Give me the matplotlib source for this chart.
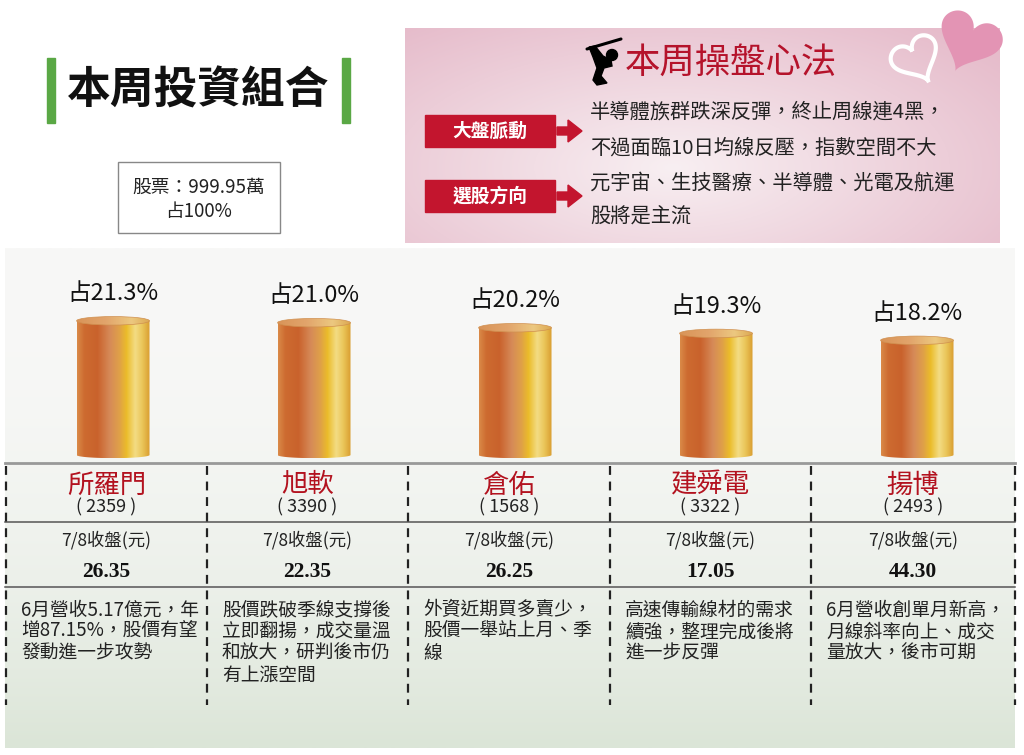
import numpy as np
import matplotlib.pyplot as plt
from matplotlib.colors import LinearSegmentedColormap, to_rgb
from matplotlib.patches import Rectangle, Polygon, PathPatch, Ellipse, Circle
from matplotlib.path import Path

plt.rcParams['font.family'] = ['Noto Sans CJK TC', 'DejaVu Sans']

# ---- data
names = ['所羅門', '旭軟', '倉佑', '建舜電', '揚博']
codes = ['2359', '3390', '1568', '3322', '2493']
shares = [21.3, 21.0, 20.2, 19.3, 18.2]
prices = ['26.35', '22.35', '26.25', '17.05', '44.30']
notes = [
    ['6月營收5.17億元，年', '增87.15%，股價有望', '發動進一步攻勢'],
    ['股價跌破季線支撐後', '立即翻揚，成交量溫', '和放大，研判後市仍', '有上漲空間'],
    ['外資近期買多賣少，', '股價一舉站上月、季', '線'],
    ['高速傳輸線材的需求', '續強，整理完成後將', '進一步反彈'],
    ['6月營收創單月新高，', '月線斜率向上、成交', '量放大，後市可期'],
]
market_lines = ['半導體族群跌深反彈，終止周線連4黑，', '不過面臨10日均線反壓，指數空間不大']
pick_lines = ['元宇宙、生技醫療、半導體、光電及航運', '股將是主流']
total_text = ['股票：999.95萬', '占100%']

RED = '#c3152e'

fig = plt.figure(figsize=(10.24, 7.55), dpi=100)
bg = fig.add_axes([0, 0, 1, 1])
bg.set_xlim(0, 1024)
bg.set_ylim(755, 0)
bg.axis('off')

# ---- lower panel background (white -> pale green)
c0, c1 = np.array(to_rgb('#f8f8f7')), np.array(to_rgb('#dbe5d7'))
s = (np.linspace(0, 1, 200) ** 2.2).reshape(-1, 1, 1)
bg.imshow(c0 * (1 - s) + c1 * s, extent=(5, 1015, 748, 248), aspect='auto', zorder=0)

# ---- title
bg.add_patch(Rectangle((47, 58), 8, 65, color='#5aa845'))
bg.add_patch(Rectangle((342, 58), 8, 65, color='#5aa845'))
bg.text(198, 91, '本周投資組合', fontsize=31.5, fontweight='bold', ha='center', va='center', color='#111')

bg.add_patch(Rectangle((118, 162), 162, 71, fill=False, ec='#888', lw=1))
bg.text(199, 187, total_text[0], fontsize=13.5, ha='center', va='center', color='#222')
bg.text(199, 212, total_text[1], fontsize=13.5, ha='center', va='center', color='#222')

# ---- pink box
X, Y = np.meshgrid(np.linspace(0, 1, 300), np.linspace(0, 1, 120))
r = np.clip(np.sqrt(((X - 0.45) / 0.7) ** 2 + ((Y - 0.65) / 0.85) ** 2), 0, 1)[..., None]
light, pink = np.array(to_rgb('#f8eff2')), np.array(to_rgb('#e6bccb'))
bg.imshow(light * (1 - r) + pink * r, extent=(405, 1000, 243, 28), aspect='auto', zorder=1)

# hearts
t = np.linspace(0, 2 * np.pi, 200)
hx = 16 * np.sin(t) ** 3
hy = -(13 * np.cos(t) - 5 * np.cos(2 * t) - 2 * np.cos(3 * t) - np.cos(4 * t))


def heart(cx, cy, scale, ang):
    a = np.deg2rad(ang)
    px = hx * np.cos(a) - hy * np.sin(a)
    py = hx * np.sin(a) + hy * np.cos(a)
    return np.column_stack([cx + px * scale, cy + py * scale])


bg.add_patch(Polygon(heart(969, 40, 2.0, 24), closed=True, fc='#e394b4', ec='none', zorder=3))
bg.add_patch(Polygon(heart(916, 58, 1.5, -28), closed=True, fc='none', ec='white', lw=3, zorder=3))

# golfer icon
bg.plot([587, 621], [49, 39], color='black', lw=2.2, zorder=3, solid_capstyle='round')
bg.add_patch(Circle((612, 55), 5.5, color='black', zorder=3))
bg.add_patch(Polygon([(589, 47), (595, 46), (603, 56), (611, 60), (612, 66), (604, 68),
                      (601, 76), (607, 83), (597, 85), (593, 80), (597, 68), (593, 57)],
                     closed=True, color='black', zorder=3))
bg.text(625, 63, '本周操盤心法', fontsize=25.5, color='#b5132b', ha='left', va='center', zorder=3)

for y0, lab in [(115, '大盤脈動'), (180, '選股方向')]:
    bg.add_patch(Rectangle((425, y0), 130, 32, color=RED, zorder=3))
    bg.text(490, y0 + 16, lab, fontsize=13.5, fontweight='bold', color='white', ha='center', va='center', zorder=4)
    yc = y0 + 16
    bg.add_patch(Polygon([(557, yc - 4), (568, yc - 4), (568, yc - 11), (582, yc), (568, yc + 11),
                          (568, yc + 4), (557, yc + 4)], closed=True, color=RED, zorder=3))

for i, line in enumerate(market_lines + pick_lines):
    bg.text(590, [112, 148, 183, 217][i], line, fontsize=14.6, color='#222', ha='left', va='center', zorder=4)

# ---- table
bg.plot([5, 1015], [463, 463], color='#999', lw=2, zorder=2)
bg.plot([5, 1015], [522, 522], color='#555', lw=1.1, zorder=2)
bg.plot([5, 1015], [587, 587], color='#555', lw=1.1, zorder=2)
seps = [6, 207, 408, 610, 811, 1015]
for sx in seps:
    bg.plot([sx, sx], [466, 705], color='#222', lw=1.6, ls=(0, (4, 3)), zorder=2)

for i in range(len(names)):
    cx = (seps[i] + seps[i + 1]) / 2
    bg.text(cx, 485, names[i], fontsize=19, color='#b3121f', ha='center', va='center', zorder=3)
    bg.text(cx, 507, f'( {codes[i]} )', fontsize=13, color='#222', ha='center', va='center', zorder=3)
    bg.text(cx, 540, '7/8收盤(元)', fontsize=12.5, color='#222', ha='center', va='center', zorder=3)
    bg.text(cx, 572, prices[i], fontsize=15.5, fontweight='bold', family='Liberation Serif',
            color='#111', ha='center', va='center', zorder=3)
    for j, line in enumerate(notes[i]):
        bg.text(seps[i] + 15, 610 + j * 21.7, line, fontsize=13.5, color='#222',
                ha='left', va='center', zorder=3)

# ---- cylinders
px_per = 6.3
ax = fig.add_axes([12.5 / 1024, (755 - 455 - px_per) / 755, 1005 / 1024, 30 * px_per / 755])
ax.patch.set_alpha(0)
ax.axis('off')
xs = np.arange(len(shares))
bars = ax.bar(xs, shares, width=73 / 201, color='none')

body_cmap = LinearSegmentedColormap.from_list('body', [
    (0, '#da8a48'), (0.1, '#cd6b30'), (0.28, '#c9622c'), (0.45, '#d68a58'), (0.58, '#dfa048'),
    (0.68, '#ebbc2a'), (0.8, '#f3dc84'), (0.9, '#eac558'), (1, '#d99d30')])
top_cmap = LinearSegmentedColormap.from_list('top', [
    (0, '#d99458'), (0.4, '#e2a56c'), (0.75, '#ecc880'), (1, '#dca850')])
grad = np.linspace(0, 1, 256).reshape(1, -1)
eh_top, eh_bot = 1.35, 1.0
th = np.linspace(np.pi, 2 * np.pi, 60)

for b, v in zip(bars, shares):
    x0, bw, h = b.get_x(), b.get_width(), b.get_height()
    xc = x0 + bw / 2
    arc = np.column_stack([xc + bw / 2 * np.cos(th), eh_bot / 2 * np.sin(th)])
    outline = np.vstack([[x0, h], [x0, 0], arc, [x0 + bw, h], [x0, h]])
    clip = PathPatch(Path(outline), transform=ax.transData)
    im = ax.imshow(grad, cmap=body_cmap, extent=(x0, x0 + bw, -eh_bot / 2, h), aspect='auto', zorder=2)
    im.set_clip_path(clip)
    top = Ellipse((xc, h), bw, eh_top, transform=ax.transData)
    im2 = ax.imshow(grad, cmap=top_cmap, extent=(x0, x0 + bw, h - eh_top / 2, h + eh_top / 2),
                    aspect='auto', zorder=3)
    im2.set_clip_path(top)
    ax.add_patch(Ellipse((xc, h), bw, eh_top, fc='none', ec='#d09050', lw=0.5, zorder=4))
    ax.annotate(f'占{v}%', xy=(xc, h), xytext=(0, 27), textcoords='offset pixels',
                ha='center', va='center', fontsize=17, color='#111')

ax.set_xlim(-0.5, 4.5)
ax.set_ylim(-1, 29)

fig.savefig('out.png', dpi=100)
